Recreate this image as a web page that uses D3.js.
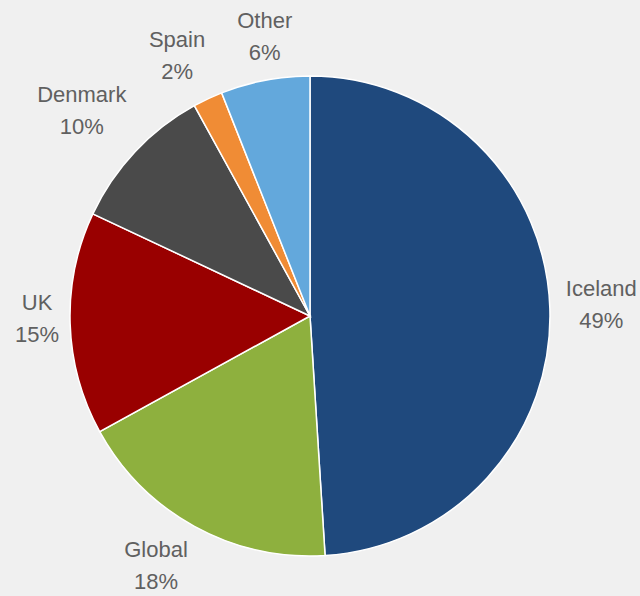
<!DOCTYPE html>
<html>
<head>
<meta charset="utf-8">
<script src="https://cdn.jsdelivr.net/npm/d3@7"></script>
<style>
  html, body { margin: 0; padding: 0; background: #f0f0f0; }
  svg { display: block; }
</style>
</head>
<body>
<svg id="chart" width="640" height="596"></svg>
<script>
// Share of catch by market
const categories = ["Iceland", "Global", "UK", "Denmark", "Spain", "Other"];
const values = [49, 18, 15, 10, 2, 6];
const colors = ["#1f497d", "#8eb03e", "#990000", "#4a4a4a", "#f08c35", "#63a8dc"];

const width = 640, height = 596;
const cx = 310, cy = 316, radius = 240;
const fontSize = 22, lineGap = 32;

const svg = d3.select("#chart");
const g = svg.append("g").attr("transform", `translate(${cx},${cy})`);

const data = categories.map((c, i) => ({ name: c, value: values[i], color: colors[i] }));

const pie = d3.pie().value(d => d.value).sort(null);
const arc = d3.arc().innerRadius(0).outerRadius(radius);
const arcs = pie(data);

g.selectAll("path.slice")
  .data(arcs)
  .join("path")
  .attr("class", "slice")
  .attr("d", arc)
  .attr("fill", d => d.data.color)
  .attr("stroke", "#ffffff")
  .attr("stroke-width", 1.5);

// Outside labels: anchor point on the mid-angle ray, box pushed away from the pie
const measure = svg.append("text").attr("font-family", "Liberation Sans, Arial, sans-serif")
  .attr("font-size", fontSize).attr("visibility", "hidden");
function textWidth(s) { measure.text(s); return measure.node().getComputedTextLength(); }

const gap = 16, boxH = 54;
const clamp = v => Math.max(-1, Math.min(1, v));
// small hand adjustments so neighbouring labels sit comfortably
const nudge = { UK: [5, -6], Other: [13, 0], Denmark: [3, -2] };

arcs.forEach(a => {
  const mid = (a.startAngle + a.endAngle) / 2;
  const s = Math.sin(mid), c = Math.cos(mid);
  const px = (radius + gap) * s, py = -(radius + gap) * c;
  const l1 = a.data.name, l2 = Math.round(a.data.value) + "%";
  const w = Math.max(textWidth(l1), textWidth(l2));
  const [nx, ny] = nudge[l1] || [0, 0];
  const bx = px + clamp(2 * s) * w / 2 + nx;
  const by = py - clamp(2 * c) * boxH / 2 + ny;
  const t = g.append("text")
    .attr("text-anchor", "middle")
    .attr("font-family", "Liberation Sans, Arial, sans-serif")
    .attr("font-size", fontSize)
    .attr("fill", "#606060");
  t.append("tspan").attr("x", bx).attr("y", by - 10).text(l1);
  t.append("tspan").attr("x", bx).attr("y", by - 10 + lineGap).text(l2);
});
measure.remove();
</script>
</body>
</html>
